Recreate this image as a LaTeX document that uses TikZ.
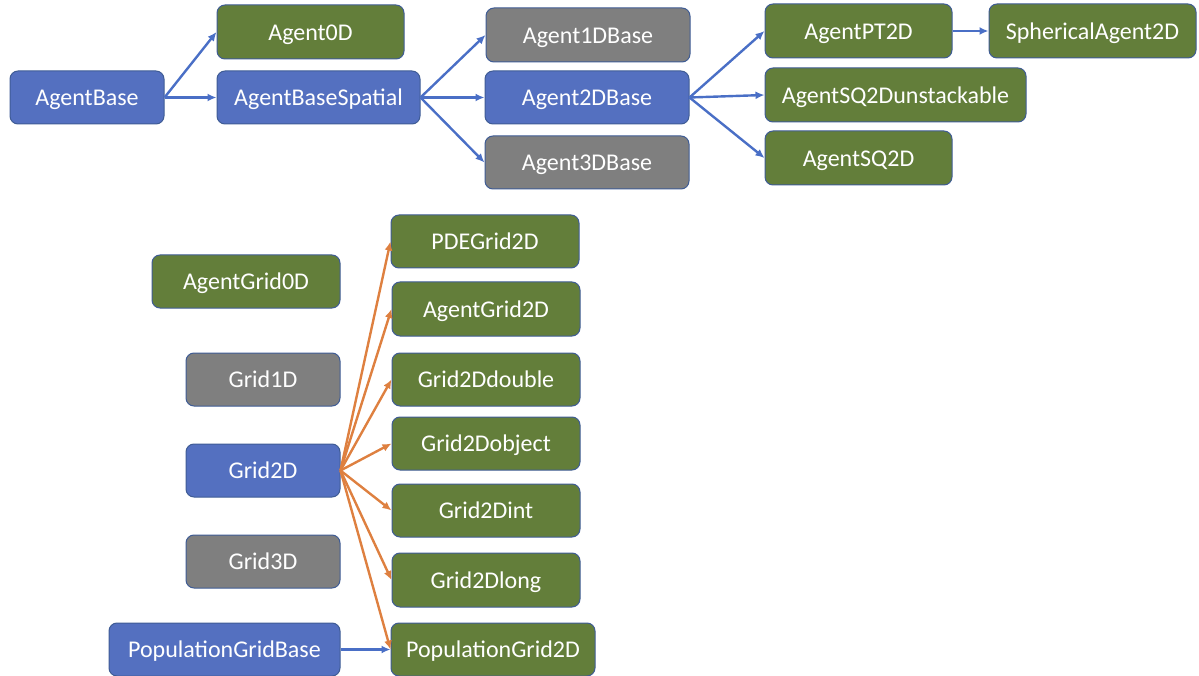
\documentclass[tikz,border=0pt]{standalone}
\usepackage{fontspec}
\setmainfont{Carlito}
\usetikzlibrary{arrows.meta}
\definecolor{cblue}{HTML}{5470C0}
\definecolor{cgreen}{HTML}{637E3A}
\definecolor{cgray}{HTML}{7F7F7F}
\definecolor{cedge}{HTML}{3F5C95}
\definecolor{carrowb}{HTML}{4A6FC6}
\definecolor{carrowo}{HTML}{DE8040}
\tikzset{
  box/.style={draw=cedge, line width=1pt, rounded corners=8pt, text=white,
    font=\fontsize{24}{28}\selectfont, inner sep=0pt, anchor=center,
    text height=16.8pt, text depth=0pt},
  bluebox/.style={box, fill=cblue},
  greenbox/.style={box, fill=cgreen},
  graybox/.style={box, fill=cgray},
  barrow/.style={draw=carrowb, line width=2.4pt, -{Latex[length=9pt,width=8pt]}},
  oarrow/.style={draw=carrowo, line width=2.4pt, -{Latex[length=9pt,width=8pt]}},
}
\begin{document}
\begin{tikzpicture}[x=1pt,y=-1pt]
\useasboundingbox (0,0) rectangle (1199,676);
% top
\node[bluebox, minimum width=154, minimum height=53] (ab) at (87,97.5) {AgentBase};
\node[greenbox, minimum width=187, minimum height=54] (a0) at (310.5,32) {Agent0D};
\node[bluebox, minimum width=203, minimum height=53] (abs) at (318.5,97.5) {AgentBaseSpatial};
\node[graybox, minimum width=204, minimum height=54] (a1) at (588,35) {Agent1DBase};
\node[bluebox, minimum width=204, minimum height=53] (a2) at (587,97.5) {Agent2DBase};
\node[graybox, minimum width=204, minimum height=53] (a3) at (587,162.5) {Agent3DBase};
\node[greenbox, minimum width=187, minimum height=54] (pt) at (858.5,31) {AgentPT2D};
\node[greenbox, minimum width=207, minimum height=54] (sph) at (1092.5,31) {SphericalAgent2D};
\node[greenbox, minimum width=261, minimum height=54] (squ) at (895.5,95) {AgentSQ2Dunstackable};
\node[greenbox, minimum width=187, minimum height=54] (sq) at (858.5,158) {AgentSQ2D};
% bottom
\node[greenbox, minimum width=188, minimum height=53] (ag0) at (246,281.5) {AgentGrid0D};
\node[graybox, minimum width=154, minimum height=53] (g1) at (263,379.5) {Grid1D};
\node[bluebox, minimum width=154, minimum height=53] (g2) at (263,470.5) {Grid2D};
\node[graybox, minimum width=154, minimum height=53] (g3) at (263,561.5) {Grid3D};
\node[bluebox, minimum width=231, minimum height=53] (pgb) at (224.5,649.5) {PopulationGridBase};
\node[greenbox, minimum width=188, minimum height=53] (pde) at (485,241.5) {PDEGrid2D};
\node[greenbox, minimum width=188, minimum height=54] (ag2) at (486,309) {AgentGrid2D};
\node[greenbox, minimum width=188, minimum height=53] (gd) at (486,379.5) {Grid2Ddouble};
\node[greenbox, minimum width=188, minimum height=53] (go) at (486,443.5) {Grid2Dobject};
\node[greenbox, minimum width=188, minimum height=53] (gi) at (486,510.5) {Grid2Dint};
\node[greenbox, minimum width=188, minimum height=54] (gl) at (486,580) {Grid2Dlong};
\node[greenbox, minimum width=204, minimum height=53] (pg2) at (493,649.5) {PopulationGrid2D};
% top arrows
\draw[barrow] (ab.east) -- (a0.west);
\draw[barrow] (ab.east) -- (abs.west);
\draw[barrow] (abs.east) -- (a1.west);
\draw[barrow] (abs.east) -- (a2.west);
\draw[barrow] (abs.east) -- (a3.west);
\draw[barrow] (a2.east) -- (pt.west);
\draw[barrow] (a2.east) -- (squ.west);
\draw[barrow] (a2.east) -- (sq.west);
\draw[barrow] (pt.east) -- (sph.west);
% bottom arrows
\draw[oarrow] (g2.east) -- (pde.west);
\draw[oarrow] (g2.east) -- (ag2.west);
\draw[oarrow] (g2.east) -- (gd.west);
\draw[oarrow] (g2.east) -- (go.west);
\draw[oarrow] (g2.east) -- (gi.west);
\draw[oarrow] (g2.east) -- (gl.west);
\draw[oarrow] (g2.east) -- (pg2.west);
\draw[barrow] (pgb.east) -- (pg2.west);
\end{tikzpicture}
\end{document}
